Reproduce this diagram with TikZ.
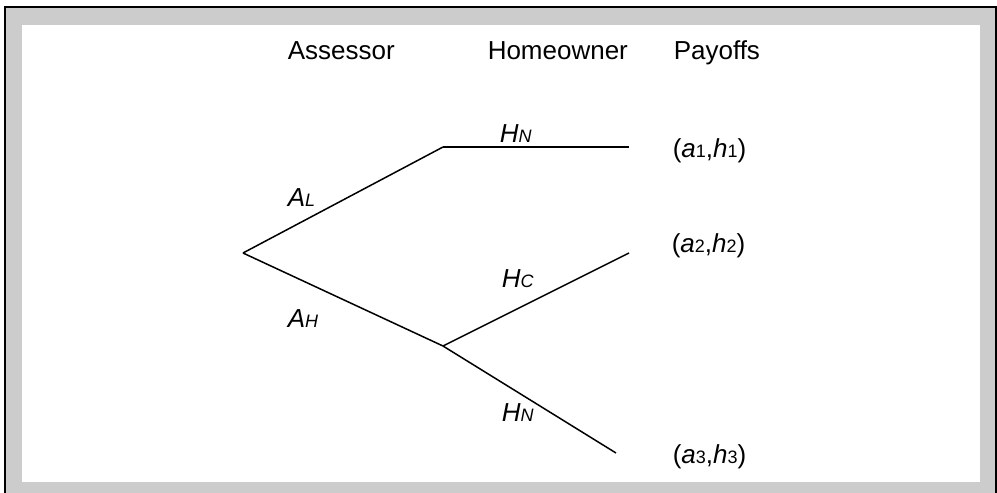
\documentclass[tikz,border=0pt]{standalone}
\usepackage{fontspec}
\setmainfont{Liberation Sans}
\newcommand{\smidx}[1]{{\fontsize{18pt}{18pt}\selectfont #1}}

\begin{document}
\begin{tikzpicture}[x=1pt,y=-1pt,line width=1.5pt,
                    txt/.style={anchor=base west,inner sep=0pt,font=\fontsize{26pt}{26pt}\selectfont}]

       \useasboundingbox (0,0) rectangle (997,493);
       \fill[black!20,draw=black,line width=2pt] (5,7) rectangle (996,510);
       \fill[white] (22,25) rectangle (980,482);

       \node[txt] (assessor) at (287,59) {Assessor};
       \node[txt] (homeowner) at (487,59) {Homeowner};
       \node[txt] (payoffs) at (673,59) {Payoffs};

       \coordinate (root) at (243,253);
       \coordinate (up) at (443,147);
       \coordinate (low) at (443,346);
       \coordinate (end1) at (629,147);
       \coordinate (end2) at (629,253);
       \coordinate (end3) at (616,453);

       \path
         (root) edge (up)
                edge (low)
         (up) edge (end1)
         (low) edge (end2)
               edge (end3);

       \node[txt] (al) at (287,206) {\textit{A}\smidx{\textit{L}}};
       \node[txt] (ah) at (287,327) {\textit{A}\smidx{\textit{H}}};
       \node[txt] (hn1) at (499,142) {\textit{H}\smidx{\textit{N}}};
       \node[txt] (hc) at (501,287) {\textit{H}\smidx{\textit{C}}};
       \node[txt] (hn2) at (501,421) {\textit{H}\smidx{\textit{N}}};

       \node[txt] (pay1) at (672,157) {(\textit{a}\smidx{1},\textit{h}\smidx{1})};
       \node[txt] (pay2) at (671,252) {(\textit{a}\smidx{2},\textit{h}\smidx{2})};
       \node[txt] (pay3) at (672,463) {(\textit{a}\smidx{3},\textit{h}\smidx{3})};

    \end{tikzpicture}
\end{document}
